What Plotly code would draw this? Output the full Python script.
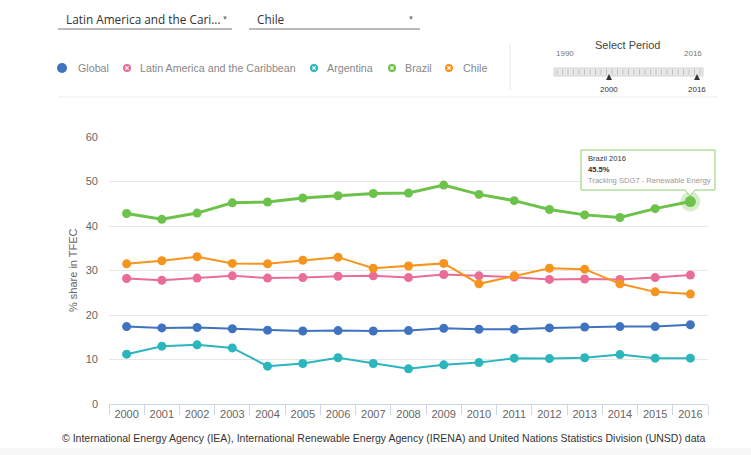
import plotly.graph_objects as go

# Renewable energy share in total final energy consumption (%)
years = [str(y) for y in range(2000, 2017)]
global_share = [17.4, 17.1, 17.2, 16.9, 16.6, 16.4, 16.5, 16.4, 16.5, 17.0, 16.8, 16.8, 17.1, 17.3, 17.4, 17.4, 17.8]
latam_share = [28.2, 27.8, 28.3, 28.8, 28.3, 28.4, 28.7, 28.8, 28.4, 29.1, 28.8, 28.5, 28.0, 28.1, 28.0, 28.4, 29.0]
argentina_share = [11.2, 13.0, 13.3, 12.6, 8.5, 9.1, 10.4, 9.1, 7.9, 8.8, 9.3, 10.3, 10.2, 10.4, 11.1, 10.3, 10.3]
brazil_share = [42.8, 41.5, 42.9, 45.2, 45.4, 46.3, 46.8, 47.3, 47.4, 49.2, 47.1, 45.7, 43.7, 42.5, 41.9, 43.9, 45.5]
chile_share = [31.5, 32.2, 33.1, 31.6, 31.5, 32.3, 33.0, 30.5, 31.0, 31.6, 27.0, 28.8, 30.5, 30.3, 27.0, 25.2, 24.7]

series_names = ["Global", "Latin America and the Caribbean", "Argentina", "Brazil", "Chile"]
series_values = [global_share, latam_share, argentina_share, brazil_share, chile_share]
series_colors = ["#3f73c0", "#ea6d97", "#2bb5bd", "#6cc24a", "#f7941d"]
line_widths = [2, 2, 2, 3, 2]

y_ticks = [0, 10, 20, 30, 40, 50, 60]

W, H = 751, 455
ML, MR, MT, MB = 109, 43, 137, 51
PW, PH = W - ML - MR, H - MT - MB


def px(x):
    return (x - ML) / PW


def py(y):
    return (H - MB - y) / PH


fig = go.Figure()

for name, vals, col, lw in zip(series_names, series_values, series_colors, line_widths):
    fig.add_trace(go.Scatter(
        x=years, y=vals, name=name, mode="lines+markers",
        line=dict(color=col, width=lw),
        marker=dict(color=col, size=9),
        showlegend=False, hoverinfo="skip",
    ))

# highlighted Brazil 2016 point with halo
fig.add_trace(go.Scatter(
    x=[years[-1]], y=[brazil_share[-1]], mode="markers",
    marker=dict(color="rgba(108,194,74,0.28)", size=20),
    showlegend=False, hoverinfo="skip"))
fig.add_trace(go.Scatter(
    x=[years[-1]], y=[brazil_share[-1]], mode="markers",
    marker=dict(color="#6cc24a", size=11),
    showlegend=False, hoverinfo="skip"))

shapes = []
annotations = []
FONT = "Liberation Sans, Arial, sans-serif"

# dropdown selectors
for x0, x1, label, arrow_x in [(58, 232, "Latin America and the Cari...", 225), (249, 420, "Chile", 411)]:
    shapes.append(dict(type="line", xref="paper", yref="paper", x0=px(x0), x1=px(x1),
                       y0=py(29), y1=py(29), line=dict(color="#777", width=1)))
    annotations.append(dict(xref="paper", yref="paper", x=px(x0 + 6), y=py(19), text=label,
                            showarrow=False, xanchor="left", yanchor="middle",
                            font=dict(family="Open Sans, sans-serif", size=11.8, color="#333")))
    annotations.append(dict(xref="paper", yref="paper", x=px(arrow_x), y=py(18), text="▼",
                            showarrow=False, xanchor="center", yanchor="middle",
                            font=dict(family=FONT, size=6, color="#777")))

# legend
legend_pos = [(62, 76), (127, 138), (314, 325), (392, 403), (449, 461)]
for i, ((mx, tx), name, col) in enumerate(zip(legend_pos, series_names, series_colors)):
    r = 5 if i == 0 else 4
    shapes.append(dict(type="circle", xref="paper", yref="paper",
                       x0=px(mx - r), x1=px(mx + r), y0=py(68 + r), y1=py(68 - r),
                       fillcolor=col, line=dict(color=col, width=0)))
    if i > 0:
        d = 1.6
        for sgn in (1, -1):
            shapes.append(dict(type="line", xref="paper", yref="paper",
                               x0=px(mx - d), x1=px(mx + d), y0=py(68 - sgn * d), y1=py(68 + sgn * d),
                               line=dict(color="white", width=1.2)))
    annotations.append(dict(xref="paper", yref="paper", x=px(tx), y=py(68.5), text=name,
                            showarrow=False, xanchor="left", yanchor="middle",
                            font=dict(family=FONT, size=10.7, color="#888")))

# separator and period selector
shapes.append(dict(type="line", xref="paper", yref="paper", x0=px(510), x1=px(510),
                   y0=py(44), y1=py(90), line=dict(color="#e6e6e6", width=1)))
annotations.append(dict(xref="paper", yref="paper", x=px(627), y=py(45), text="Select Period",
                        showarrow=False, xanchor="center", yanchor="middle",
                        font=dict(family=FONT, size=11, color="#444")))
for xx, lab, yy in [(565, "1990", 54), (693, "2016", 54)]:
    annotations.append(dict(xref="paper", yref="paper", x=px(xx), y=py(yy), text=lab,
                            showarrow=False, xanchor="center", yanchor="middle",
                            font=dict(family=FONT, size=8, color="#777")))
shapes.append(dict(type="rect", xref="paper", yref="paper", x0=px(554), x1=px(703),
                   y0=py(68), y1=py(76), fillcolor="#e8e8e8", line=dict(color="#d4d4d4", width=1)))
n_years = 27
for k in range(n_years):
    xx = 557 + k * (700 - 557) / (n_years - 1)
    shapes.append(dict(type="line", xref="paper", yref="paper", x0=px(xx), x1=px(xx),
                       y0=py(69.5), y1=py(74.5), line=dict(color="#bdbdbd", width=1)))
for xx, lab in [(609, "2000"), (697, "2016")]:
    shapes.append(dict(type="path", xref="paper", yref="paper",
                       path=f"M {px(xx - 3)} {py(80)} L {px(xx + 3)} {py(80)} L {px(xx)} {py(74)} Z",
                       fillcolor="#333", line=dict(width=0)))
    annotations.append(dict(xref="paper", yref="paper", x=px(xx), y=py(89), text=lab,
                            showarrow=False, xanchor="center", yanchor="middle",
                            font=dict(family=FONT, size=8, color="#333")))
shapes.append(dict(type="line", xref="paper", yref="paper", x0=px(58), x1=px(718),
                   y0=py(97), y1=py(97), line=dict(color="#eeeeee", width=1)))

# tooltip
tx0, tx1, ty0, ty1 = 581, 715, 150, 190
shapes.append(dict(type="path", xref="paper", yref="paper",
                   path=(f"M {px(tx0)} {py(ty0)} L {px(tx1)} {py(ty0)} L {px(tx1)} {py(ty1)} "
                         f"L {px(695)} {py(ty1)} L {px(690)} {py(196)} L {px(685)} {py(ty1)} "
                         f"L {px(tx0)} {py(ty1)} Z"),
                   fillcolor="rgba(255,255,255,0.95)", line=dict(color="#8fd16c", width=1)))
tip_lines = [
    (158, "Brazil 2016", "#333", False),
    (169, f"{brazil_share[-1]}%", "#333", True),
    (180, "Tracking SDG7 - Renewable Energy", "#999", False),
]
for yy, txt, col, bold in tip_lines:
    annotations.append(dict(xref="paper", yref="paper", x=px(586), y=py(yy),
                            text=f"<b>{txt}</b>" if bold else txt,
                            showarrow=False, xanchor="left", yanchor="middle",
                            font=dict(family=FONT, size=7.6, color=col)))

# axis title
annotations.append(dict(xref="paper", yref="paper", x=px(73), y=py(270), text="% share in TFEC",
                        showarrow=False, textangle=-90, xanchor="center", yanchor="middle",
                        font=dict(family=FONT, size=11, color="#666")))

# footer
annotations.append(dict(xref="paper", yref="paper", x=px(383), y=py(438),
                        text="© International Energy Agency (IEA), International Renewable Energy Agency (IRENA) and United Nations Statistics Division (UNSD) data",
                        showarrow=False, xanchor="center", yanchor="middle",
                        font=dict(family=FONT, size=10.5, color="#333")))
shapes.append(dict(type="rect", xref="paper", yref="paper", x0=px(0), x1=px(W),
                   y0=py(H), y1=py(448), fillcolor="#f6f6f6", line=dict(width=0), layer="below"))

fig.update_layout(
    width=W, height=H,
    margin=dict(l=ML, r=MR, t=MT, b=MB, pad=0),
    paper_bgcolor="white", plot_bgcolor="white",
    font=dict(family=FONT, color="#666"),
    shapes=shapes, annotations=annotations,
    xaxis=dict(type="category", range=[-0.5, len(years) - 0.5], tickson="boundaries",
               ticks="outside", ticklen=10, tickangle=0,
               tickcolor="#ccd6eb", showline=True, linecolor="#ccd6eb", linewidth=1,
               showgrid=False, tickfont=dict(size=11, color="#666"), fixedrange=True),
    yaxis=dict(range=[0, 60], tickvals=y_ticks, showgrid=True, gridcolor="#e6e6e6",
               zeroline=False, showline=False, ticks="", ticklabelstandoff=10,
               tickfont=dict(size=11, color="#666"), fixedrange=True),
)

fig.write_html("out.html", config={"displayModeBar": False})
